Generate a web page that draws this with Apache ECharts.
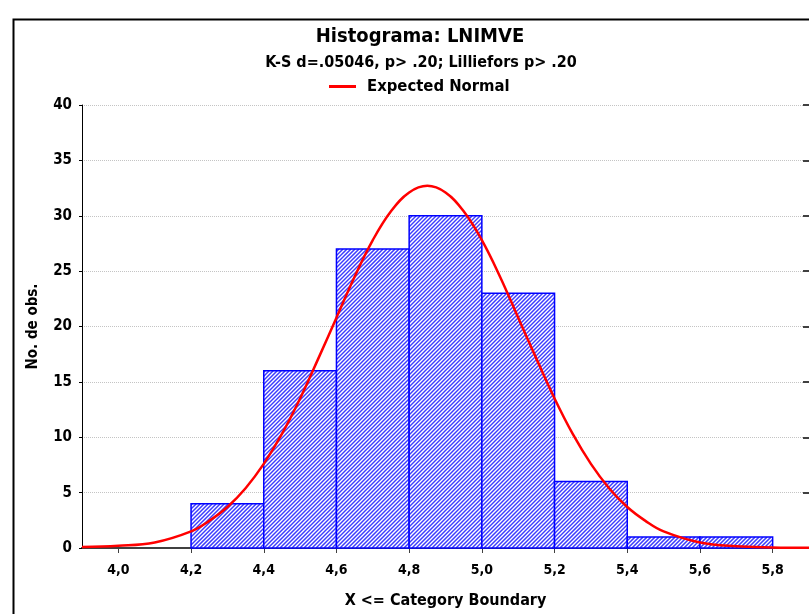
<!DOCTYPE html>
<html>
<head>
<meta charset="utf-8">
<script src="https://cdn.jsdelivr.net/npm/echarts@6/dist/echarts.min.js"></script>
<style>html,body{margin:0;padding:0;background:#fff;}#c{width:809px;height:614px;}</style>
</head>
<body>
<div id="c"></div>
<script>
// ---- data ----
const binStarts = [4.2, 4.4, 4.6, 4.8, 5.0, 5.2, 5.4, 5.6];
const binEnds   = [4.4, 4.6, 4.8, 5.0, 5.2, 5.4, 5.6, 5.8];
const counts    = [4, 16, 27, 30, 23, 6, 1, 1];
const curveX = [3.9, 4.0, 4.1, 4.2, 4.25, 4.3, 4.35, 4.4, 4.45, 4.5, 4.55, 4.6, 4.65, 4.7, 4.75, 4.8, 4.85, 4.9, 4.95, 5.0, 5.05, 5.1, 5.15, 5.2, 5.25, 5.3, 5.35, 5.4, 5.45, 5.5, 5.6, 5.7, 5.8, 5.9];
const curveY = [0.1, 0.2, 0.5, 1.5, 2.45, 3.7, 5.4, 7.6, 10.3, 13.5, 17.1, 20.8, 24.5, 27.8, 30.4, 32.1, 32.7, 32.1, 30.4, 27.8, 24.5, 20.8, 17.1, 13.5, 10.3, 7.6, 5.4, 3.7, 2.45, 1.5, 0.5, 0.15, 0.05, 0.02];
const xTicks = [4.0, 4.2, 4.4, 4.6, 4.8, 5.0, 5.2, 5.4, 5.6, 5.8];
const titleText = 'Histograma: LNIMVE';
const subText = 'K-S d=.05046, p> .20; Lilliefors p> .20';
const legendName = 'Expected Normal';
const xName = 'X <= Category Boundary';
const yName = 'No. de obs.';

const FONT = "'Liberation Sans Narrow','DejaVu Sans Condensed','Liberation Sans',sans-serif";
const chart = echarts.init(document.getElementById('c'));
const barData = binStarts.map((s, i) => [s, binEnds[i], counts[i]]);
const lineData = curveX.map((x, i) => [x, curveY[i]]);

chart.setOption({
  animation: false,
  backgroundColor: '#ffffff',
  graphic: [{
    type: 'rect', left: 11, top: 17, shape: { width: 820, height: 620 },
    style: { fill: 'none', stroke: '#000', lineWidth: 2 }, silent: true, z: -10
  }, {
    type: 'text', x: 420, y: 27, z: 10,
    style: { text: titleText, textAlign: 'center', fontFamily: FONT, fontSize: 20, fontWeight: 'bold', fill: '#000' }
  }, {
    type: 'text', x: 421, y: 55, z: 10,
    style: { text: subText, textAlign: 'center', fontFamily: FONT, fontSize: 16, fontWeight: 'bold', fill: '#000' }
  }],
  legend: {
    top: 73, left: 324, icon: 'rect', itemWidth: 27, itemHeight: 3, itemGap: 10,
    textStyle: { fontFamily: FONT, fontSize: 16.5, fontWeight: 'bold', color: '#000', padding: [0, 0, 0, 6] },
    data: [legendName]
  },
  grid: { left: 82, top: 105, width: 731, height: 445, containLabel: false },
  xAxis: [{
    type: 'value', min: 3.9, max: 5.9,
    name: xName, nameLocation: 'middle', nameGap: 45,
    nameTextStyle: { fontFamily: FONT, fontSize: 16, fontWeight: 'bold', color: '#000' },
    axisLine: { onZero: false, lineStyle: { color: '#404040', width: 2 } },
    axisTick: { show: true, length: 4, inside: false, customValues: xTicks, lineStyle: { color: '#000' } },
    axisLabel: { customValues: xTicks, margin: 15, fontFamily: FONT, fontSize: 14, fontWeight: 'bold', color: '#000',
      formatter: v => v.toFixed(1).replace('.', ',') },
    splitLine: { show: false }
  }, {
    type: 'value', min: 3.9, max: 5.9, position: 'top',
    axisLine: { show: true, lineStyle: { color: '#404040', width: 2 } },
    axisTick: { show: true, inside: true, length: 5, customValues: xTicks, lineStyle: { color: '#404040' } },
    axisLabel: { show: false }, splitLine: { show: false }
  }],
  yAxis: [{
    type: 'value', min: 0, max: 40, interval: 5,
    name: yName, nameLocation: 'middle', nameGap: 41, nameRotate: 90,
    nameTextStyle: { fontFamily: FONT, fontSize: 15, fontWeight: 'bold', color: '#000' },
    axisLine: { show: true, lineStyle: { color: '#000', width: 1 } },
    axisTick: { show: true, length: 3, lineStyle: { color: '#000' } },
    axisLabel: { margin: 10, fontFamily: FONT, fontSize: 15, fontWeight: 'bold', color: '#000' },
    splitLine: { show: true, lineStyle: { color: '#c4c4c4', type: [1, 1], width: 1 } }
  }, {
    type: 'value', min: 0, max: 40, interval: 5, position: 'right',
    axisLine: { show: true, lineStyle: { color: '#000' } },
    axisTick: { show: true, inside: true, length: 6, lineStyle: { color: '#404040', width: 2 } },
    axisLabel: { show: false }, splitLine: { show: false }
  }],
  series: [{
    type: 'custom', name: 'bins', xAxisIndex: 0, yAxisIndex: 0,
    data: barData,
    encode: { x: [0, 1], y: 2 },
    renderItem: function (params, api) {
      const p0 = api.coord([api.value(0), api.value(2)]);
      const p1 = api.coord([api.value(1), 0]);
      const x0 = p0[0], y0 = p0[1], w = p1[0] - p0[0], h = p1[1] - p0[1];
      const children = [{
        type: 'rect', shape: { x: x0, y: y0, width: w, height: h },
        style: { fill: '#ffffff', stroke: null }
      }];
      const lines = [];
      const start = Math.floor((x0 - h) / 4) * 4;
      for (let x = start; x <= x0 + w; x += 4) {
        lines.push({
          type: 'line',
          shape: { x1: x, y1: y0 + h, x2: x + h, y2: y0 },
          style: { stroke: '#3c3cff', lineWidth: 1.5 }
        });
      }
      children.push({
        type: 'group',
        clipPath: { type: 'rect', shape: { x: x0, y: y0, width: w, height: h } },
        children: lines
      });
      children.push({
        type: 'rect', shape: { x: x0, y: y0, width: w, height: h },
        style: { fill: 'none', stroke: '#0000ff', lineWidth: 1.5 }
      });
      return { type: 'group', children: children };
    },
    z: 2
  }, {
    type: 'line', name: legendName, data: lineData, smooth: 0.4, showSymbol: false,
    color: '#ff0000', lineStyle: { color: '#ff0000', width: 2.5 }, z: 5
  }]
});
</script>
</body>
</html>
